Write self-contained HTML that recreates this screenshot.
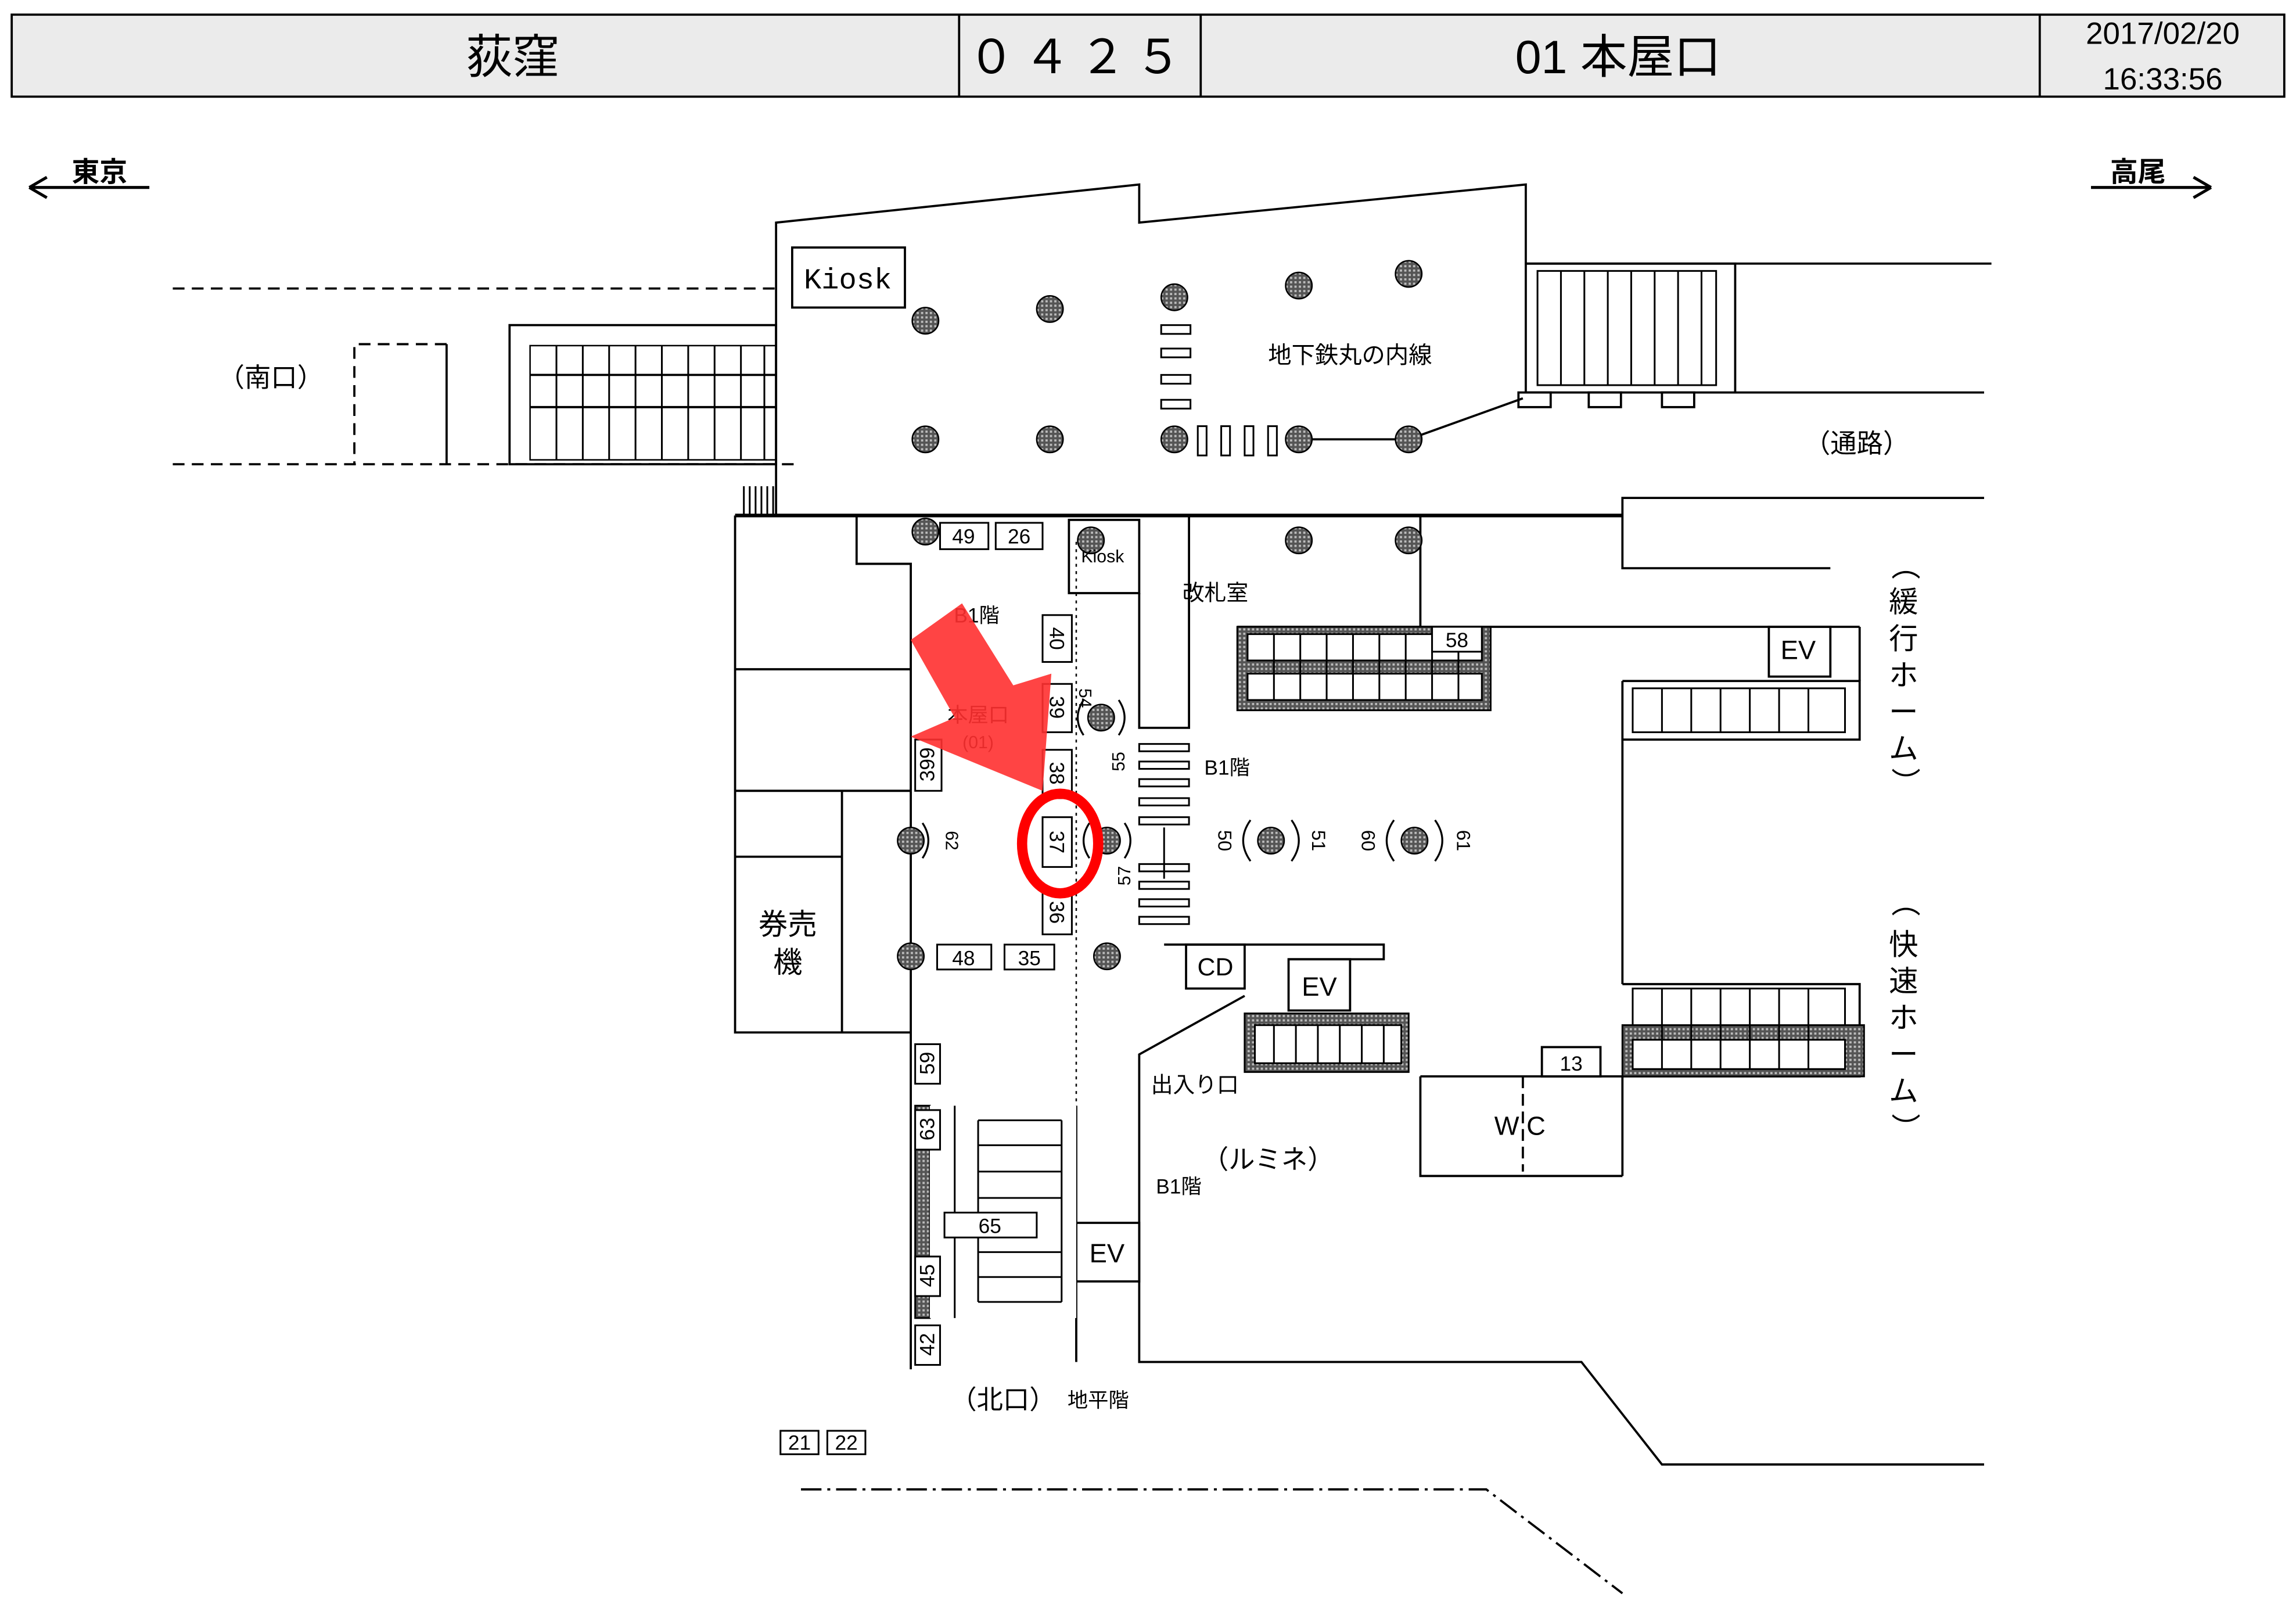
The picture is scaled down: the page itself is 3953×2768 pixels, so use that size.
<!DOCTYPE html>
<html><head><meta charset="utf-8"><style>
html,body{margin:0;padding:0;background:#fff;}
svg{display:block;}
text{font-family:"Liberation Sans","Noto Sans CJK JP",sans-serif;fill:#000;}
</style></head><body>
<svg width="3953" height="2768" viewBox="0 0 1568 1098" preserveAspectRatio="none" xmlns="http://www.w3.org/2000/svg">
<defs>
<pattern id="hat" width="3" height="3" patternUnits="userSpaceOnUse"><rect width="3" height="3" fill="#555"/><rect width="1.5" height="1.5" fill="#bbb"/></pattern>
<g id="dot"><circle r="9" fill="url(#hat)" stroke="#000" stroke-width="1"/></g>
</defs>
<rect x="8" y="10" width="1552" height="56" fill="#ebebeb" stroke="#000" stroke-width="1.5"/>
<line x1="655" y1="10" x2="655" y2="66" stroke="#000" stroke-width="1.5"/>
<line x1="820" y1="10" x2="820" y2="66" stroke="#000" stroke-width="1.5"/>
<line x1="1393" y1="10" x2="1393" y2="66" stroke="#000" stroke-width="1.5"/>
<text x="350" y="50" font-size="32" text-anchor="middle">荻窪</text>
<text x="737" y="50" font-size="32" text-anchor="middle" letter-spacing="6">０４２５</text>
<text x="1105" y="50" font-size="32" text-anchor="middle">01 本屋口</text>
<text x="1477" y="30" font-size="21" text-anchor="middle">2017/02/20</text>
<text x="1477" y="61" font-size="21" text-anchor="middle">16:33:56</text>
<text x="68" y="124" font-size="19" font-weight="bold" text-anchor="middle">東京</text>
<path d="M20,128 H102 M20,128 l12,-7 M20,128 l12,7" stroke="#000" stroke-width="2" fill="none"/>
<text x="1460" y="124" font-size="19" font-weight="bold" text-anchor="middle">高尾</text>
<path d="M1428,128 H1510 M1510,128 l-12,-7 M1510,128 l-12,7" stroke="#000" stroke-width="2" fill="none"/>
<g stroke="#000" stroke-width="1.5" fill="none">
<polyline points="530,352 530,152 778,126 778,152 1042,126 1042,180 1360,180"/>
<rect x="1042" y="180" width="143" height="88"/>
<line x1="1185" y1="268" x2="1355" y2="268"/>
<rect x="541" y="169" width="77" height="41"/>
<line x1="118" y1="197" x2="530" y2="197" stroke-dasharray="8,5"/>
<line x1="118" y1="317" x2="542" y2="317" stroke-dasharray="8,5"/>
<polyline points="305,235 242,235 242,317" stroke-dasharray="8,5"/>
<line x1="305" y1="235" x2="305" y2="317"/>
<rect x="348" y="222" width="182" height="95"/>
<rect x="362" y="236" width="168" height="78" stroke-width="1"/>
<line x1="362" y1="256" x2="530" y2="256"/><line x1="362" y1="278" x2="530" y2="278"/>
<line x1="887" y1="300" x2="962" y2="300"/><line x1="962" y1="300" x2="1040" y2="272"/>
<rect x="1037" y="268" width="22" height="10"/><rect x="1085" y="268" width="22" height="10"/><rect x="1135" y="268" width="22" height="10"/>
<line x1="502" y1="352" x2="1108" y2="352" stroke-width="2.5"/>
<polyline points="1355,340 1108,340 1108,388 1250,388"/>
<polyline points="502,352 502,705 622,705"/>
<polyline points="585,352 585,385 622,385 622,540"/>
<line x1="502" y1="457" x2="622" y2="457"/><line x1="502" y1="540" x2="622" y2="540"/>
<line x1="502" y1="585" x2="575" y2="585"/><line x1="575" y1="540" x2="575" y2="705"/>
<line x1="622" y1="540" x2="622" y2="935"/>
<line x1="735" y1="370" x2="735" y2="930" stroke-dasharray="2,3" stroke-width="1"/>
<rect x="730" y="355" width="48" height="50"/>
<polyline points="778,405 778,497 812,497 812,352"/>
<line x1="970" y1="352" x2="970" y2="428"/>
<line x1="845" y1="428" x2="1270" y2="428"/>
<rect x="1208" y="428" width="42" height="34"/>
<line x1="1270" y1="428" x2="1270" y2="465"/>
<polyline points="1108,465 1270,465 1270,505 1108,505"/>
<line x1="1108" y1="465" x2="1108" y2="672"/>
<polyline points="1108,672 1270,672 1270,735 1108,735"/>
<line x1="1108" y1="735" x2="1108" y2="803"/>
<rect x="810" y="645" width="40" height="30"/>
<polyline points="795,645 945,645 945,655 880,655"/>
<rect x="880" y="655" width="42" height="35"/>
<polyline points="850,680 778,720 778,930 1080,930 1135,1000 1355,1000"/>
<polyline points="970,735 970,803 1108,803"/>
<line x1="970" y1="735" x2="1108" y2="735"/>
<line x1="1040" y1="735" x2="1040" y2="800" stroke-dasharray="8,4"/>
<rect x="1053" y="715" width="40" height="20"/>
<rect x="735" y="835" width="43" height="40"/>
<line x1="735" y1="755" x2="735" y2="930"/>
<polyline points="547,1017 1015,1017 1108,1088" stroke-dasharray="14,4,2,4"/>
</g>
<g stroke="#000" stroke-width="1.2">
<rect x="1050" y="185" width="122" height="78" fill="none"/>
<path d="M1066,185V263M1082,185V263M1098,185V263M1114,185V263M1130,185V263M1146,185V263M1162,185V263" />
<path d="M380,236V314M398,236V314M416,236V314M434,236V314M452,236V314M470,236V314M488,236V314M506,236V314M522,236V314"/>
<path d="M508,332V352M512,332V352M516,332V352M520,332V352M524,332V352M528,332V352"/>
<rect x="845" y="428" width="173" height="57" fill="url(#hat)"/>
<rect x="852" y="433" width="160" height="18" fill="#fff"/><rect x="852" y="460" width="160" height="18" fill="#fff"/>
<path d="M870,433v45M888,433v45M906,433v45M924,433v45M942,433v45M960,433v45M978,433v45M996,433v45"/>
<rect x="1115" y="470" width="145" height="30" fill="#fff"/>
<path d="M1135,470v30M1155,470v30M1175,470v30M1195,470v30M1215,470v30M1235,470v30"/>
<rect x="1108" y="700" width="165" height="35" fill="url(#hat)"/>
<rect x="1115" y="675" width="145" height="25" fill="#fff"/><rect x="1115" y="710" width="145" height="20" fill="#fff"/>
<path d="M1135,675v55M1155,675v55M1175,675v55M1195,675v55M1215,675v55M1235,675v55"/>
<rect x="850" y="692" width="112" height="40" fill="url(#hat)"/>
<rect x="857" y="700" width="100" height="26" fill="#fff"/>
<path d="M870,700v26M885,700v26M900,700v26M915,700v26M930,700v26M945,700v26"/>
<rect x="625" y="755" width="10" height="145" fill="url(#hat)"/>
<rect x="635" y="755" width="100" height="145" fill="#fff" stroke="none"/>
<line x1="652" y1="755" x2="652" y2="900"/>
<path d="M668,765H725M668,782H725M668,800H725M668,818H725M668,855H725M668,872H725M668,889H725"/>
<line x1="668" y1="765" x2="668" y2="889"/><line x1="725" y1="765" x2="725" y2="889"/>
</g>
<g stroke="#000" stroke-width="1.2" fill="#fff">
<rect x="793" y="222" width="20" height="6"/><rect x="793" y="238" width="20" height="6"/><rect x="793" y="256" width="20" height="6"/><rect x="793" y="273" width="20" height="6"/>
<rect x="818" y="291" width="6" height="20"/><rect x="834" y="291" width="6" height="20"/><rect x="850" y="291" width="6" height="20"/><rect x="866" y="291" width="6" height="20"/>
<rect x="778" y="508" width="34" height="5"/><rect x="778" y="520" width="34" height="5"/><rect x="778" y="532" width="34" height="5"/><rect x="778" y="545" width="34" height="5"/><rect x="778" y="558" width="34" height="5"/><rect x="778" y="590" width="34" height="5"/><rect x="778" y="602" width="34" height="5"/><rect x="778" y="614" width="34" height="5"/><rect x="778" y="626" width="34" height="5"/>
</g>
<line x1="795" y1="565" x2="795" y2="600" stroke="#000" stroke-width="1.2"/>
<g>
<use href="#dot" x="632" y="219"/><use href="#dot" x="717" y="211"/><use href="#dot" x="802" y="203"/><use href="#dot" x="887" y="195"/><use href="#dot" x="962" y="187"/>
<use href="#dot" x="632" y="300"/><use href="#dot" x="717" y="300"/><use href="#dot" x="802" y="300"/><use href="#dot" x="887" y="300"/><use href="#dot" x="962" y="300"/>
<use href="#dot" x="632" y="363"/><use href="#dot" x="745" y="369"/><use href="#dot" x="887" y="369"/><use href="#dot" x="962" y="369"/>
<use href="#dot" x="622" y="574"/><use href="#dot" x="622" y="653"/><use href="#dot" x="756" y="653"/>
<use href="#dot" x="752" y="490"/><use href="#dot" x="756" y="574"/><use href="#dot" x="868" y="574"/><use href="#dot" x="966" y="574"/>
</g>
<g stroke="#000" stroke-width="1.3" fill="none">
<path d="M740,478 q-8,12 0,24 M764,478 q8,12 0,24"/>
<path d="M744,562 q-8,12 0,24 M768,562 q8,12 0,24"/>
<path d="M854,560 q-10,14 0,28 M882,560 q10,14 0,28"/>
<path d="M952,560 q-10,14 0,28 M980,560 q10,14 0,28"/>
<path d="M630,562 q8,12 0,24"/>
</g>
<g stroke="#000" stroke-width="1.2" fill="#fff">
<rect x="642" y="357" width="33" height="18"/><rect x="680" y="357" width="32" height="18"/>
<rect x="712" y="420" width="20" height="32"/><rect x="712" y="467" width="20" height="33"/><rect x="712" y="512" width="20" height="33"/><rect x="712" y="558" width="20" height="34"/><rect x="712" y="608" width="20" height="30"/>
<rect x="625" y="505" width="18" height="35"/><rect x="640" y="645" width="37" height="17"/><rect x="686" y="645" width="34" height="17"/>
<rect x="625" y="713" width="17" height="27"/><rect x="625" y="758" width="17" height="27"/><rect x="645" y="828" width="63" height="17"/><rect x="625" y="858" width="17" height="27"/><rect x="625" y="905" width="17" height="27"/>
<rect x="978" y="428" width="34" height="17"/><rect x="533" y="977" width="26" height="16"/><rect x="565" y="977" width="26" height="16"/>
</g>
<g font-size="14">
<text x="658" y="371" text-anchor="middle">49</text><text x="696" y="371" text-anchor="middle">26</text>
<text x="658" y="659" text-anchor="middle">48</text><text x="703" y="659" text-anchor="middle">35</text>
<text x="676" y="842" text-anchor="middle">65</text><text x="995" y="442" text-anchor="middle">58</text>
<text x="1073" y="731" text-anchor="middle">13</text><text x="546" y="990" text-anchor="middle">21</text><text x="578" y="990" text-anchor="middle">22</text>
<text transform="translate(717,436) rotate(90)" text-anchor="middle">40</text>
<text transform="translate(717,483) rotate(90)" text-anchor="middle">39</text>
<text transform="translate(717,528) rotate(90)" text-anchor="middle">38</text>
<text transform="translate(717,575) rotate(90)" text-anchor="middle">37</text>
<text transform="translate(717,623) rotate(90)" text-anchor="middle">36</text>
<text transform="translate(638,522) rotate(-90)" text-anchor="middle">399</text>
<text transform="translate(638,726) rotate(-90)" text-anchor="middle">59</text>
<text transform="translate(638,771) rotate(-90)" text-anchor="middle">63</text>
<text transform="translate(638,871) rotate(-90)" text-anchor="middle">45</text>
<text transform="translate(638,918) rotate(-90)" text-anchor="middle">42</text>
<text transform="translate(737,470) rotate(90)" font-size="12">54</text>
<text transform="translate(768,520) rotate(-90)" font-size="12" text-anchor="middle">55</text>
<text transform="translate(772,598) rotate(-90)" font-size="12" text-anchor="middle">57</text>
<text transform="translate(646,574) rotate(90)" font-size="12" text-anchor="middle">62</text>
<text transform="translate(832,574) rotate(90)" font-size="13" text-anchor="middle">50</text>
<text transform="translate(896,574) rotate(90)" font-size="13" text-anchor="middle">51</text>
<text transform="translate(930,574) rotate(90)" font-size="13" text-anchor="middle">60</text>
<text transform="translate(995,574) rotate(90)" font-size="13" text-anchor="middle">61</text>
</g>
<g font-size="16">
<text x="579" y="197" font-size="20" text-anchor="middle" style="font-family:'Liberation Mono',monospace">Kiosk</text>
<text x="753" y="384" font-size="12" text-anchor="middle">Kiosk</text>
<text x="922" y="248" text-anchor="middle">地下鉄丸の内線</text>
<text x="1268" y="309" font-size="18" text-anchor="middle">（通路）</text>
<text x="185" y="264" font-size="18" text-anchor="middle">（南口）</text>
<text x="830" y="410" font-size="15" text-anchor="middle">改札室</text>
<text x="838" y="529" font-size="14" text-anchor="middle">B1階</text>
<text x="667" y="425" font-size="14" text-anchor="middle">B1階</text>
<text x="668" y="493" font-size="14" text-anchor="middle">本屋口</text>
<text x="668" y="511" font-size="12" text-anchor="middle">(01)</text>
<text x="538" y="638" font-size="20" text-anchor="middle">券売</text>
<text x="538" y="664" font-size="20" text-anchor="middle">機</text>
<text x="1228" y="450" font-size="18" text-anchor="middle">EV</text>
<text x="830" y="666" font-size="17" text-anchor="middle">CD</text>
<text x="901" y="680" font-size="18" text-anchor="middle">EV</text>
<text x="756" y="862" font-size="18" text-anchor="middle">EV</text>
<text x="816" y="746" font-size="15" text-anchor="middle">出入り口</text>
<text x="866" y="798" font-size="18" text-anchor="middle">（ルミネ）</text>
<text x="805" y="815" font-size="14" text-anchor="middle">B1階</text>
<text x="1038" y="775" font-size="18" text-anchor="middle">W C</text>
<text x="685" y="962" font-size="18" text-anchor="middle">（北口）</text>
<text x="750" y="961" font-size="14" text-anchor="middle">地平階</text>
<g font-size="20" text-anchor="middle">
<text x="1300" y="392" transform="rotate(90,1300,386)">（</text>
<text x="1300" y="418">緩</text><text x="1300" y="443">行</text><text x="1300" y="468">ホ</text><text x="1300" y="493">ー</text><text x="1300" y="518">ム</text>
<text x="1300" y="540" transform="rotate(90,1300,534)">）</text>
<text x="1300" y="622" transform="rotate(90,1300,616)">（</text>
<text x="1300" y="652">快</text><text x="1300" y="677">速</text><text x="1300" y="702">ホ</text><text x="1300" y="727">ー</text><text x="1300" y="752">ム</text>
<text x="1300" y="776" transform="rotate(90,1300,770)">）</text>
</g>
</g>
<polygon points="622,437 657,412 692,468 718,460 712,540 622,503 652,490" fill="#ff3030" fill-opacity="0.9"/>
<ellipse cx="724" cy="576" rx="26" ry="34" fill="none" stroke="#ff0000" stroke-width="7"/>
</svg>
</body></html>
